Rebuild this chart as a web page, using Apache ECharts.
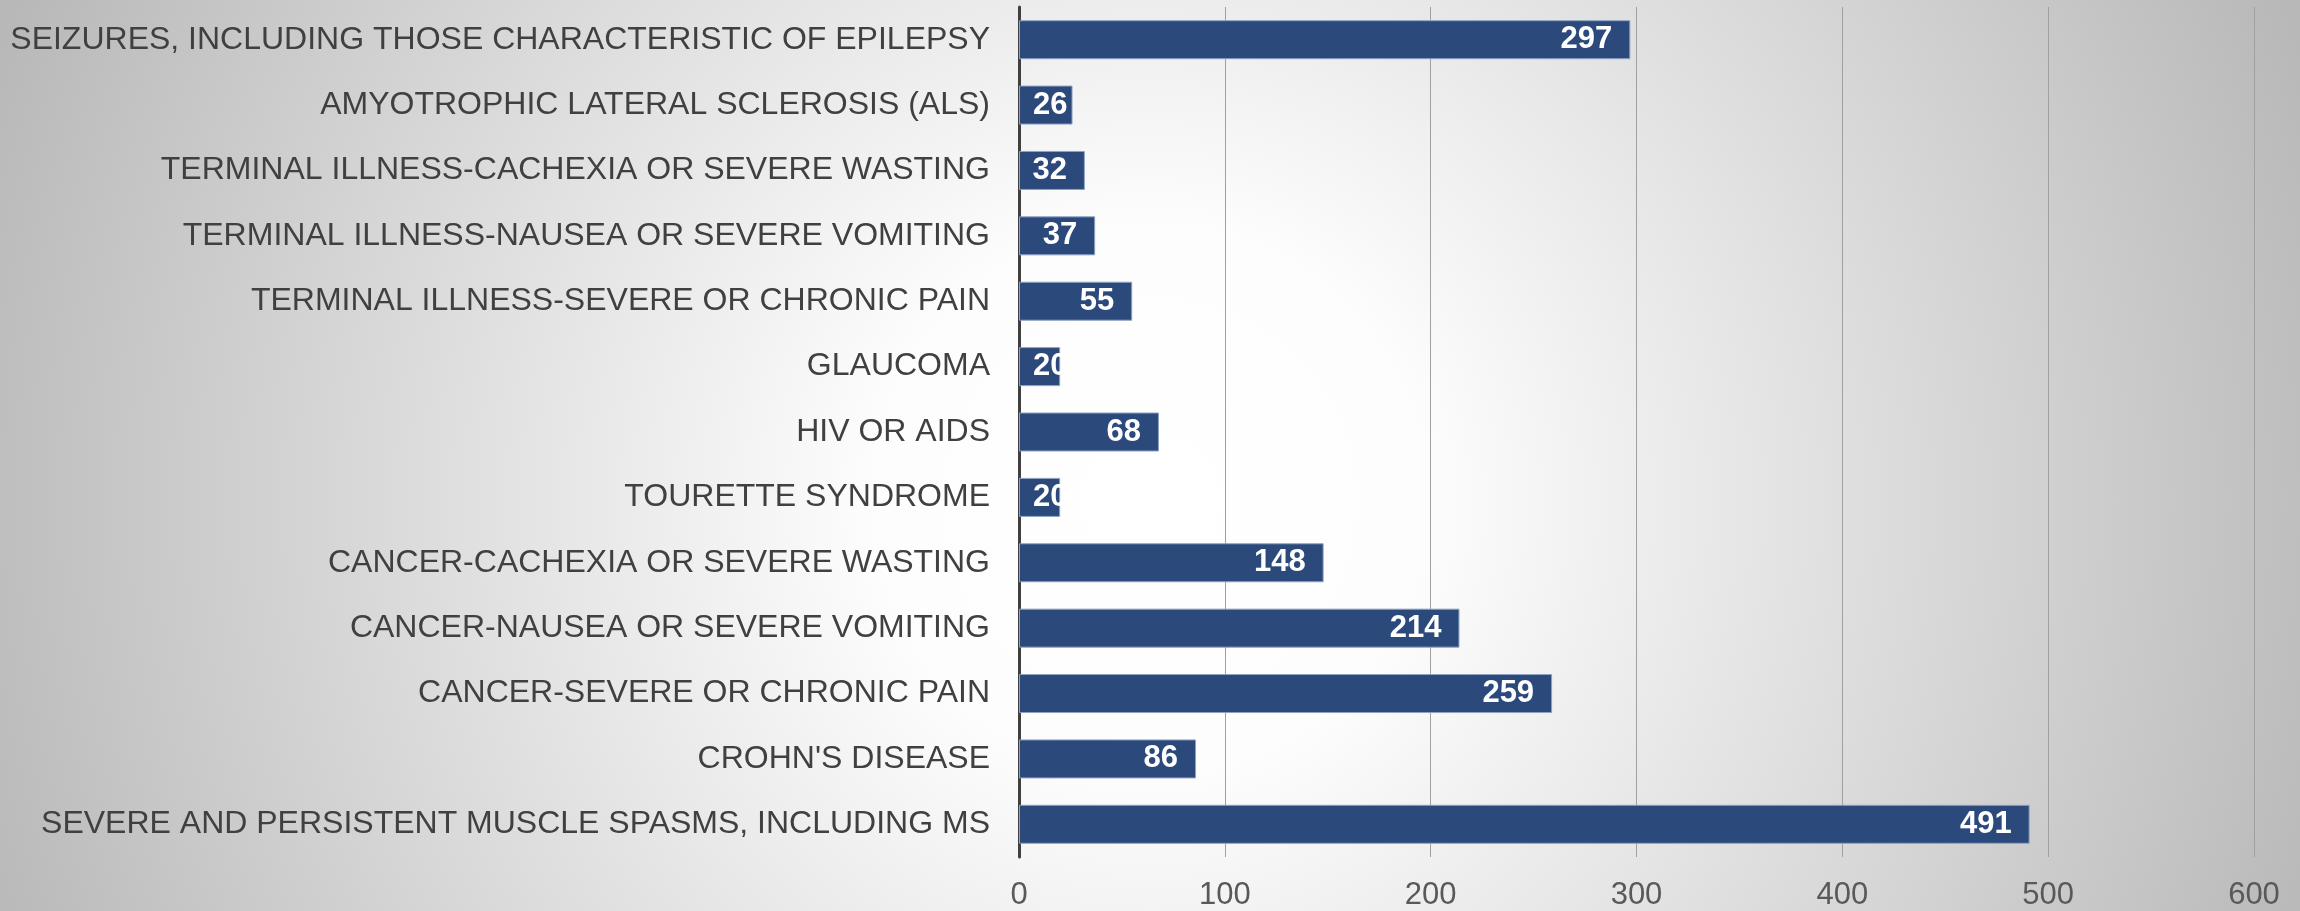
<!DOCTYPE html>
<html>
<head>
<meta charset="utf-8">
<style>
  html, body { margin: 0; padding: 0; }
  #main { width: 2300px; height: 911px; }
</style>
<script src="https://cdn.jsdelivr.net/npm/echarts@6/dist/echarts.min.js"></script>
</head>
<body>
<div id="main"></div>
<script>
  // 类别（从上到下）
  const categories = [
    'SEIZURES, INCLUDING THOSE CHARACTERISTIC OF EPILEPSY',
    'AMYOTROPHIC LATERAL SCLEROSIS (ALS)',
    'TERMINAL ILLNESS-CACHEXIA OR SEVERE WASTING',
    'TERMINAL ILLNESS-NAUSEA OR SEVERE VOMITING',
    'TERMINAL ILLNESS-SEVERE OR CHRONIC PAIN',
    'GLAUCOMA',
    'HIV OR AIDS',
    'TOURETTE SYNDROME',
    'CANCER-CACHEXIA OR SEVERE WASTING',
    'CANCER-NAUSEA OR SEVERE VOMITING',
    'CANCER-SEVERE OR CHRONIC PAIN',
    "CROHN'S DISEASE",
    'SEVERE AND PERSISTENT MUSCLE SPASMS, INCLUDING MS'
  ];
  const counts = [297, 26, 32, 37, 55, 20, 68, 20, 148, 214, 259, 86, 491];
  const xTicks = [0, 100, 200, 300, 400, 500, 600];

  const FONT = '"Liberation Sans", Arial, sans-serif';

  // 太窄的柱子：标签从左侧开始（超出部分白字落在白底上）
  const barData = counts.map(function (v) {
    if (v < 30) {
      return {
        value: v,
        label: { position: 'insideLeft', distance: 14 }
      };
    }
    return v;
  });

  const chart = echarts.init(document.getElementById('main'));
  chart.setOption({
    animation: false,
    backgroundColor: new echarts.graphic.RadialGradient(0.5, 0.55, 1.36, [
      { offset: 0, color: '#ffffff' },
      { offset: 0.22, color: '#fdfdfd' },
      { offset: 1, color: '#b8b8b8' }
    ]),
    grid: {
      left: 1019,
      right: 46,
      top: 7,
      bottom: 54,
      containLabel: false
    },
    xAxis: {
      type: 'value',
      min: xTicks[0],
      max: xTicks[xTicks.length - 1],
      interval: 100,
      axisLine: { show: false },
      axisTick: { show: false },
      splitLine: {
        lineStyle: { color: '#a0a0a0', width: 1 }
      },
      axisLabel: {
        color: '#595959',
        fontSize: 31,
        fontFamily: FONT,
        margin: 23
      }
    },
    yAxis: {
      type: 'category',
      inverse: true,
      data: categories,
      axisLine: {
        show: true,
        lineStyle: { color: '#404040', width: 3 }
      },
      axisTick: { show: false },
      axisLabel: {
        color: '#404040',
        fontSize: 32,
        fontFamily: FONT,
        margin: 29
      }
    },
    series: [{
      name: 'count',
      type: 'bar',
      data: barData,
      barWidth: 39,
      itemStyle: {
        color: '#2b4a7b',
        borderColor: '#8ea2c2',
        borderWidth: 1
      },
      label: {
        show: true,
        position: 'insideRight',
        distance: 18,
        color: '#ffffff',
        fontSize: 31,
        fontWeight: 'bold',
        fontFamily: FONT
      }
    }]
  });
</script>
</body>
</html>
